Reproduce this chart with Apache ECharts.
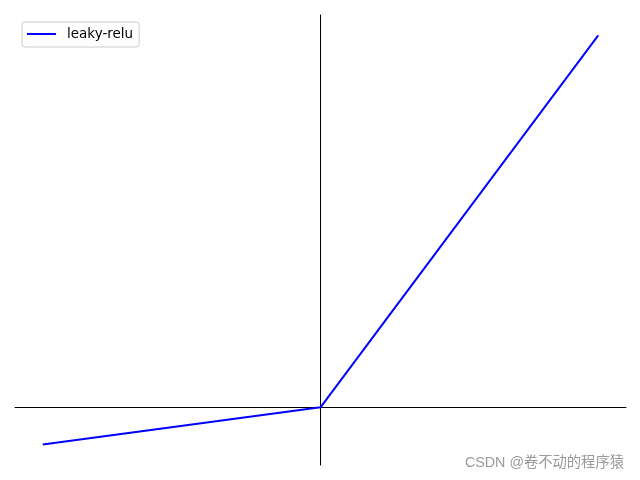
<!DOCTYPE html>
<html>
<head>
<meta charset="utf-8">
<script src="https://cdn.jsdelivr.net/npm/echarts@6/dist/echarts.min.js"></script>
<style>
  html, body { margin: 0; padding: 0; background: #fff; }
  #chart { width: 640px; height: 480px; }
</style>
</head>
<body>
<div id="chart"></div>
<script>
// leaky relu, alpha 0.1
var xValues = [-10, 0, 10];
var yValues = [-1, 0, 10];
var seriesName = 'leaky-relu';

var points = xValues.map(function (x, i) { return [x, yValues[i]]; });

var myChart = echarts.init(document.getElementById('chart'));

var option = {
    animation: false,
    grid: { left: 15, right: 14, top: 15, bottom: 15, containLabel: false },
    legend: {
        left: 22,
        top: 22,
        padding: [5, 6, 6, 5],
        borderColor: '#cccccc',
        borderWidth: 1,
        borderRadius: 3,
        itemWidth: 29,
        itemHeight: 2,
        icon: 'rect',
        textStyle: { fontFamily: 'DejaVu Sans', fontSize: 13.5, color: '#000', padding: [0, 0, 0, 6] },
        data: [seriesName]
    },
    xAxis: {
        type: 'value',
        min: -11,
        max: 11,
        axisLine: { onZero: true, lineStyle: { color: '#000', width: 1 } },
        axisTick: { show: false },
        axisLabel: { show: false },
        splitLine: { show: false }
    },
    yAxis: {
        type: 'value',
        min: -1.55,
        max: 10.55,
        axisLine: { onZero: true, lineStyle: { color: '#000', width: 1 } },
        axisTick: { show: false },
        axisLabel: { show: false },
        splitLine: { show: false }
    },
    graphic: [{
        type: 'text',
        right: 16,
        top: 456,
        style: { text: 'CSDN @卷不动的程序猿', fill: '#9a9a9a', font: '14.3px "Liberation Sans", "Noto Sans CJK SC", sans-serif' }
    }],
    series: [{
        name: seriesName,
        type: 'line',
        data: points,
        symbol: 'none',
        itemStyle: { color: '#0000ff' },
        lineStyle: { color: '#0000ff', width: 2 }
    }]
};

myChart.setOption(option);
</script>
</body>
</html>
